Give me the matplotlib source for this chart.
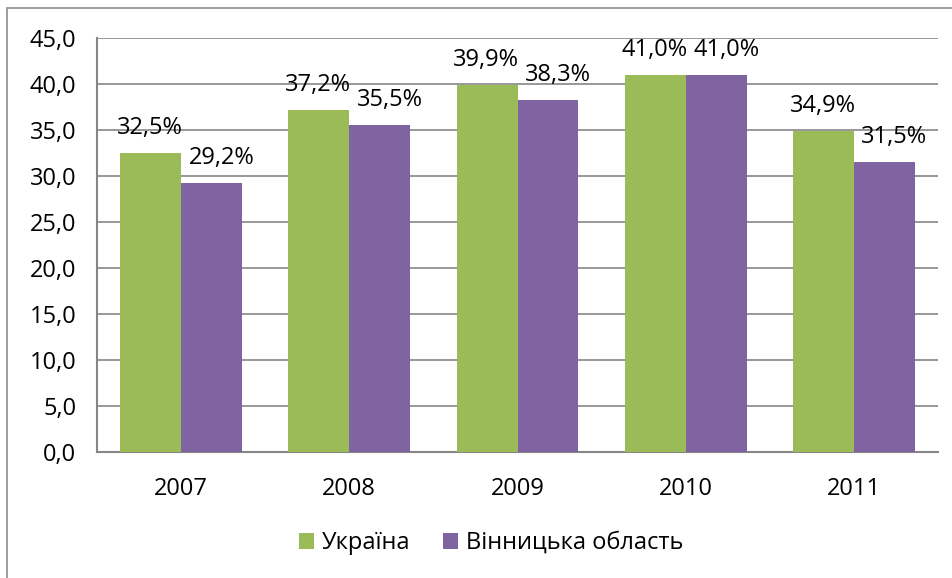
import matplotlib.pyplot as plt
import numpy as np
from matplotlib.patches import Rectangle

years = ['2007', '2008', '2009', '2010', '2011']
ukraine = [32.5, 37.2, 39.9, 41.0, 34.9]
vinnytsia = [29.2, 35.5, 38.3, 41.0, 31.5]
series_names = ['Україна', 'Вінницька область']
y_ticks = [0, 5, 10, 15, 20, 25, 30, 35, 40, 45]

green = '#9BBB59'
purple = '#8064A2'
grid_col = '#868686'

plt.rcParams['font.family'] = ['Open Sans', 'DejaVu Sans']
fs = 17

fig = plt.figure(figsize=(9.52, 5.78), dpi=100)
ax = fig.add_axes([97/952, 1 - 452/578, (938 - 97)/952, (452 - 38)/578])

# outer chart border (only left/top visible in the reference crop)
fig.patches.append(Rectangle((7/952, -0.1), 1.2, 1 - 8/578 + 0.1, transform=fig.transFigure,
                             fill=False, edgecolor='#8c8c8c', linewidth=1.2))

x = np.arange(len(years))
w = 0.362
b1 = ax.bar(x - w/2, ukraine, w, color=green, label=series_names[0], zorder=3)
b2 = ax.bar(x + w/2, vinnytsia, w, color=purple, label=series_names[1], zorder=3)

for xi, v in zip(x, ukraine):
    ax.annotate(f'{v:.1f}%'.replace('.', ','), (xi - w/2, v), xytext=(-1, 25),
                textcoords='offset pixels', ha='center', va='center', fontsize=fs)
for xi, v in zip(x, vinnytsia):
    ax.annotate(f'{v:.1f}%'.replace('.', ','), (xi + w/2, v), xytext=(10, 25),
                textcoords='offset pixels', ha='center', va='center', fontsize=fs)

ax.set_xlim(-0.5, len(years) - 0.5)
ax.set_ylim(0, 45)
ax.set_yticks(y_ticks)
ax.set_yticklabels([f'{t:.1f}'.replace('.', ',') for t in y_ticks], fontsize=fs)
ax.set_xticks(x)
ax.set_xticklabels(years, fontsize=fs)
ax.tick_params(axis='both', length=0)
ax.tick_params(axis='y', pad=15)
ax.tick_params(axis='x', pad=18)

ax.yaxis.grid(True, color=grid_col, linewidth=1.2, zorder=0)
ax.set_axisbelow(True)
for s in ['top', 'right']:
    ax.spines[s].set_visible(False)
for s in ['left', 'bottom']:
    ax.spines[s].set_color(grid_col)
    ax.spines[s].set_linewidth(1.5)

fig.legend(handles=[b1, b2], loc='center', bbox_to_anchor=(491/952, 1 - 543/578), ncol=2,
           frameon=False, fontsize=fs, handlelength=0.65, handleheight=0.65,
           handletextpad=0.3, columnspacing=1.4)

fig.savefig('out.png', dpi=100)
